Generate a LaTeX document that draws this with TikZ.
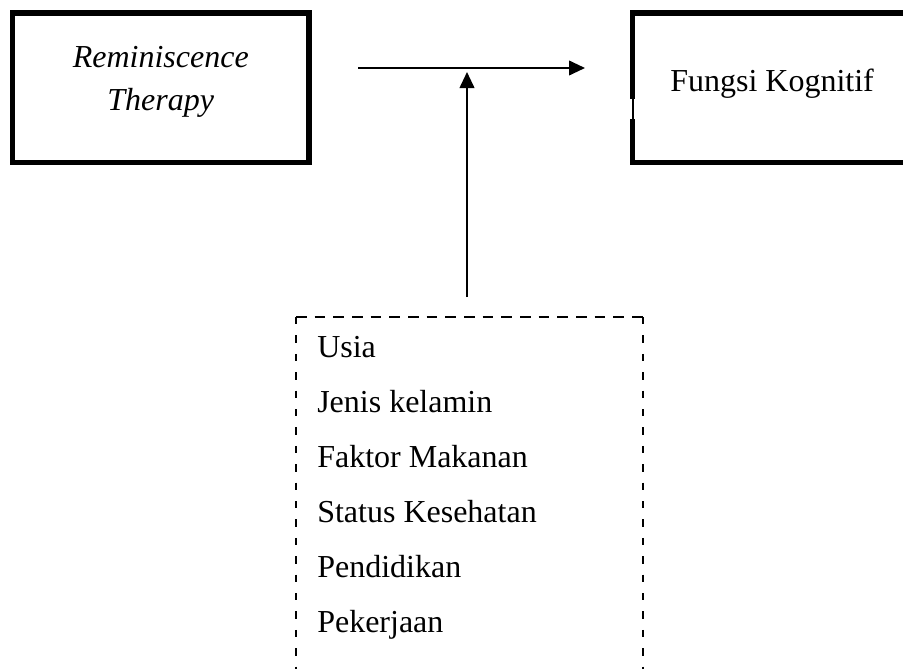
\documentclass[tikz,border=0pt]{standalone}
\usepackage{fontspec}
\setmainfont{Liberation Serif}
\usetikzlibrary{arrows.meta,positioning}

\begin{document}
\begin{tikzpicture}[x = 0.75pt, y = -0.75pt,
  box/.style = {draw, line width = 4.1pt, inner sep = 0pt, outer sep = 0pt},
  dashbox/.style = {inner sep = 0pt, outer sep = 0pt},
  dashtop/.style = {line width = 1.7pt, dash pattern = on 8pt off 6pt},
  dashside/.style = {line width = 1.7pt, dash pattern = on 5.6pt off 8.2pt},
  txt/.style = {font = \fontsize{24}{32}\selectfont, inner sep = 0pt},
  link/.style = {line width = 1.4pt, -{Triangle[length = 12pt, width = 11pt]}}]
\useasboundingbox (0,0) rectangle (903,668);
% boxes
\node[box, minimum width = 222.4pt, minimum height = 112.1pt] (rt) at (160.75,87.75) {};
\node[box, minimum width = 238.1pt, minimum height = 112.1pt] (kog) at (791.25,87.75) {};
\node[dashbox, minimum width = 260.25pt, minimum height = 302.25pt] (fak) at (469.5,518.5) {};
\draw[dashtop] (fak.north west) -- (fak.north east);
\draw[dashside] (fak.north west) -- (fak.south west);
\draw[dashside] (fak.north east) -- (fak.south east);
\draw[white, line width = 4.6pt] ([yshift = -8.4pt]kog.west) -- ([yshift = -23.4pt]kog.west);
\draw[line width = 1.5pt] ([yshift = -8.4pt]kog.west) -- ([yshift = -23.4pt]kog.west);
% texts
\node[txt, anchor = base] (rem) at (160.75,67) {\itshape Reminiscence};
\node[txt, below = 32.25pt of rem.base, anchor = base] (ther) {\itshape Therapy};
\node[txt, anchor = base west] (fk) at (670,91) {Fungsi Kognitif};
\node[txt, anchor = base west] (f1) at (317,357) {Usia};
\node[txt, below = 41.25pt of f1.base west, anchor = base west] (f2) {Jenis kelamin};
\node[txt, below = 41.25pt of f2.base west, anchor = base west] (f3) {Faktor Makanan};
\node[txt, below = 41.25pt of f3.base west, anchor = base west] (f4) {Status Kesehatan};
\node[txt, below = 41.25pt of f4.base west, anchor = base west] (f5) {Pendidikan};
\node[txt, below = 41.25pt of f5.base west, anchor = base west] (f6) {Pekerjaan};
% arrows
\coordinate (hs) at (358,68);
\coordinate (he) at (585,68);
\coordinate (vs) at (467,297);
\coordinate (ve) at (467,72);
\draw[link] (hs) -- (he);
\draw[link] (vs) -- (ve);
\end{tikzpicture}
\end{document}
